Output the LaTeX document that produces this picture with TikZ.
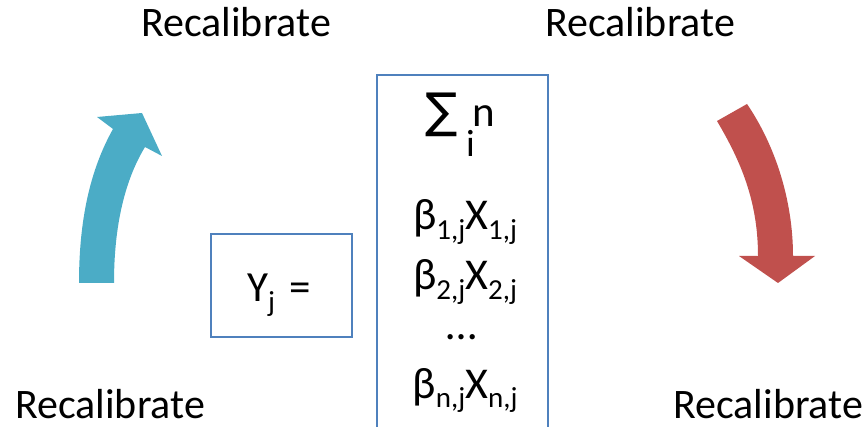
\documentclass[tikz,border=0pt]{standalone}
\usepackage{fontspec}
\setmainfont{Carlito}
\newfontfamily\symfont{DejaVu Sans}
\definecolor{boxblue}{HTML}{4F81BD}
\definecolor{arrblue}{HTML}{4BACC6}
\definecolor{arrred}{HTML}{C0504D}
\newcommand\mysub[1]{\raisebox{-0.22em}{\fontsize{29}{29}\selectfont #1}}
\begin{document}
\begin{tikzpicture}[x=1pt,y=-1pt,
  lbl/.style={anchor=base west,inner sep=0pt,text depth=0pt,font=\fontsize{42}{42}\selectfont},
  frm/.style={draw=boxblue,line width=1.5pt},
  eqline/.style={anchor=base,inner sep=0pt,font=\fontsize{44}{44}\selectfont}]
\useasboundingbox (0,0) rectangle (867,427);
% labels
\node[lbl] (rtl) at (141,37) {Recalibrate};
\node[lbl] (rtr) at (545,37) {Recalibrate};
\node[lbl] (rbl) at (15,418) {Recalibrate};
\node[lbl] (rbr) at (673,418) {Recalibrate};
% arrows
\fill[arrblue] (79,283) .. controls (79,220) and (90,170) .. (113,129)
  -- (97,117) -- (142,113) -- (162,156) -- (145,147)
  .. controls (125,180) and (114,225) .. (114,283) -- cycle;
\fill[arrred] (717,121) .. controls (740,160) and (758,200) .. (758,256)
  -- (739,256) -- (778,283) -- (815,256) -- (793,256)
  .. controls (793,200) and (775,145) .. (747,104) -- cycle;
% Y box
\node[frm,minimum width=141pt,minimum height=103pt,inner sep=0pt] (ybox) at (281.5,285.5) {};
\node[eqline,anchor=base west,font=\fontsize{43}{43}\selectfont] (yj) at (247,302) {Y\mysub{j}\hspace{14pt}=};
% sum box
\draw[frm] (377,428) -- (377,75) -- (548,75) -- (548,428);
\node[eqline,font=\symfont\fontsize{48}{48}\selectfont] (sig) at (442,128) {∑};
\node[lbl,font=\fontsize{43}{43}\selectfont] (supn) at (472,127) {n};
\node[lbl,font=\fontsize{38}{38}\selectfont] (subi) at (466,157) {i};
\node[eqline] (l1) at (465,230) {β\mysub{1,j}X\mysub{1,j}};
\node[eqline] (l2) at (465,290) {β\mysub{2,j}X\mysub{2,j}};
\node[eqline] (l3) at (462,340) {…};
\node[eqline] (l4) at (465,398) {β\mysub{n,j}X\mysub{n,j}};
\end{tikzpicture}
\end{document}
